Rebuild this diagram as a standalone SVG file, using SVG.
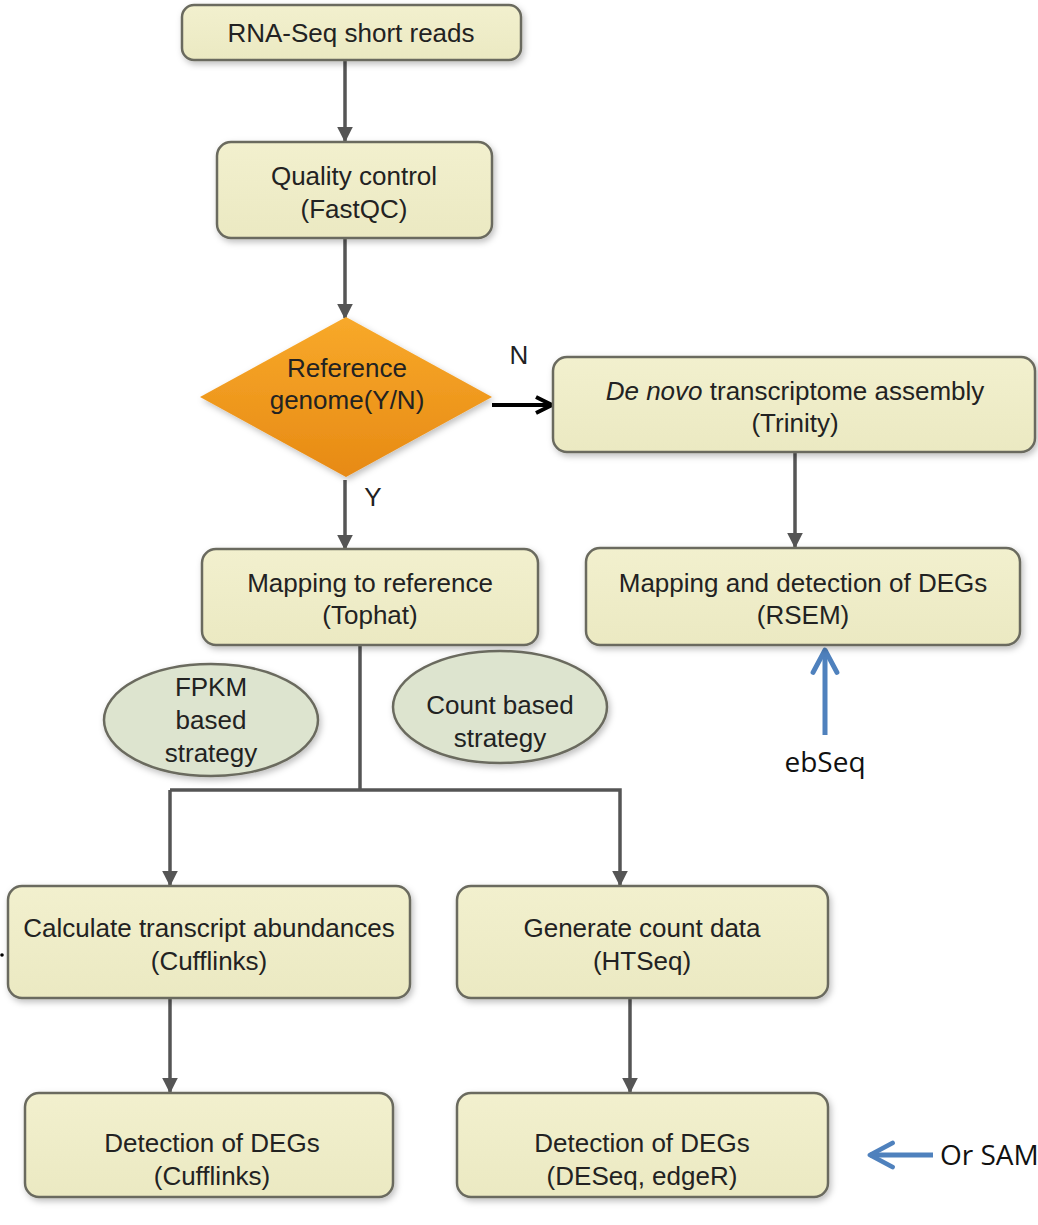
<svg xmlns="http://www.w3.org/2000/svg" width="1038" height="1225" viewBox="0 0 1038 1225">
<style>
.box{fill:url(#boxg);stroke:#6b6b5e;stroke-width:2.5;filter:url(#sh)}
.ell{fill:#dde4cf;stroke:#6b6b5e;stroke-width:2.5;filter:url(#sh)}
.t{font-family:"Liberation Sans",Arial,sans-serif;font-size:26px;fill:#222;text-anchor:middle}
.c{stroke:#555;stroke-width:3.5;fill:none}
.b{stroke:#4f81bd;stroke-width:5;fill:none}
.lab{font-family:"Open Sans","DejaVu Sans",sans-serif;font-size:28px;fill:#111}
</style>
<defs>
<linearGradient id="boxg" x1="0" y1="0" x2="0" y2="1"><stop offset="0" stop-color="#f2f0ce"/><stop offset="1" stop-color="#ebe9c2"/></linearGradient>
<linearGradient id="dg" x1="0" y1="0" x2="0" y2="1"><stop offset="0" stop-color="#f8a92a"/><stop offset="1" stop-color="#e78a14"/></linearGradient>
<filter id="sh" x="-10%" y="-10%" width="125%" height="130%"><feDropShadow dx="2" dy="3" stdDeviation="3" flood-color="#000" flood-opacity="0.25"/></filter>
<marker id="ah" viewBox="0 0 10 10" refX="9" refY="5" markerWidth="4.5" markerHeight="4.5" orient="auto" markerUnits="strokeWidth"><path d="M0,0L10,5L0,10z" fill="#555"/></marker>
<marker id="ak" viewBox="0 0 10 10" refX="9" refY="5" markerWidth="5" markerHeight="5" orient="auto" markerUnits="strokeWidth"><path d="M1,1L9,5L1,9" fill="none" stroke="#000" stroke-width="2"/></marker>
<marker id="ab" viewBox="0 0 10 10" refX="9" refY="5" markerWidth="6" markerHeight="6" orient="auto" markerUnits="strokeWidth"><path d="M1.5,1L9,5L1.5,9" fill="none" stroke="#4f81bd" stroke-width="1.6" stroke-linecap="round" stroke-linejoin="round"/></marker>
</defs>
<g id="connectors">
<line class="c" x1="345" y1="60" x2="345" y2="141" marker-end="url(#ah)"/>
<line class="c" x1="345" y1="238" x2="345" y2="318" marker-end="url(#ah)"/>
<line x1="492" y1="405" x2="552" y2="405" stroke="#000" stroke-width="4" marker-end="url(#ak)"/>
<line class="c" x1="345" y1="480" x2="345" y2="549" marker-end="url(#ah)"/>
<line class="c" x1="795" y1="452" x2="795" y2="547" marker-end="url(#ah)"/>
<polyline class="c" points="360,645 360,790"/>
<polyline class="c" points="170,790 620,790 620,885" marker-end="url(#ah)"/>
<line class="c" x1="170" y1="790" x2="170" y2="885" marker-end="url(#ah)"/>
<line class="c" x1="170" y1="998" x2="170" y2="1092" marker-end="url(#ah)"/>
<line class="c" x1="630" y1="998" x2="630" y2="1092" marker-end="url(#ah)"/>
<line class="b" x1="825" y1="735" x2="825" y2="650" marker-end="url(#ab)"/>
<line class="b" x1="933" y1="1155" x2="870" y2="1155" marker-end="url(#ab)"/>
<text class="t" x="519" y="364">N</text>
<text class="t" x="373" y="506">Y</text>
</g>
<g id="n1"><rect class="box" x="182" y="5" width="339" height="55" rx="12"/><text class="t" x="351" y="42">RNA-Seq short reads</text></g>
<g id="n2"><rect class="box" x="217" y="142" width="275" height="96" rx="14"/><text class="t" x="354" y="185">Quality control</text><text class="t" x="354" y="218">(FastQC)</text></g>
<g id="n3"><polygon points="346,317 492,397 346,477 200,397" fill="url(#dg)" filter="url(#sh)"/><text class="t" x="347" y="377">Reference</text><text class="t" x="347" y="409">genome(Y/N)</text></g>
<g id="n4"><rect class="box" x="553" y="357" width="482" height="95" rx="14"/><text class="t" x="795" y="400"><tspan font-style="italic">De novo</tspan> transcriptome assembly</text><text class="t" x="795" y="432">(Trinity)</text></g>
<g id="n5"><rect class="box" x="202" y="549" width="336" height="96" rx="14"/><text class="t" x="370" y="592">Mapping to reference</text><text class="t" x="370" y="624">(Tophat)</text></g>
<g id="n6"><rect class="box" x="586" y="548" width="434" height="97" rx="14"/><text class="t" x="803" y="592">Mapping and detection of DEGs</text><text class="t" x="803" y="624">(RSEM)</text></g>
<g id="n7"><ellipse class="ell" cx="211" cy="720" rx="107" ry="56"/><text class="t" x="211" y="696">FPKM</text><text class="t" x="211" y="729">based</text><text class="t" x="211" y="762">strategy</text></g>
<g id="n8"><ellipse class="ell" cx="500" cy="707" rx="107" ry="56"/><text class="t" x="500" y="714">Count based</text><text class="t" x="500" y="747">strategy</text></g>
<g id="n9"><rect class="box" x="8" y="886" width="402" height="112" rx="14"/><text class="t" x="209" y="937">Calculate transcript abundances</text><text class="t" x="209" y="970">(Cufflinks)</text></g>
<g id="n10"><rect class="box" x="457" y="886" width="371" height="112" rx="14"/><text class="t" x="642" y="937">Generate count data</text><text class="t" x="642" y="970">(HTSeq)</text></g>
<g id="n11"><rect class="box" x="25" y="1093" width="368" height="104" rx="14"/><text class="t" x="212" y="1152">Detection of DEGs</text><text class="t" x="212" y="1185">(Cufflinks)</text></g>
<g id="n12"><rect class="box" x="457" y="1093" width="371" height="104" rx="14"/><text class="t" x="642" y="1152">Detection of DEGs</text><text class="t" x="642" y="1185">(DESeq, edgeR)</text></g>
<circle cx="2" cy="955" r="1.8" fill="#000"/>
<text class="lab" x="825" y="772" text-anchor="middle">ebSeq</text>
<text class="lab" x="940" y="1165">Or SAM</text>
</svg>
